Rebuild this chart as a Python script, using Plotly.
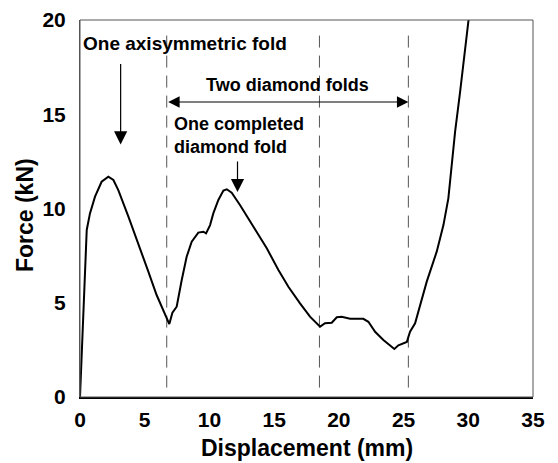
import plotly.graph_objects as go

# Force-displacement curve
displacement = [0, 0.25, 0.52, 0.77, 1.16, 1.67, 2.19, 2.58, 2.96, 3.74, 4.51, 5.28, 5.92, 6.57,
                6.90, 7.14, 7.47, 7.86, 8.24, 8.63, 9.14, 9.53, 9.74, 10.05, 10.30, 10.69, 11.08,
                11.34, 11.72, 12.36, 13.14, 14.43, 15.33, 16.10, 17.0, 17.77, 18.55, 18.93, 19.45,
                19.84, 20.22, 20.87, 21.89, 22.28, 22.80, 23.44, 24.29, 24.6, 25.25, 25.5, 25.89,
                26.28, 26.79, 27.56, 28.08, 28.46, 28.72, 28.98, 29.37, 29.75, 30.02]
force = [0, 4.6, 8.86, 9.74, 10.63, 11.42, 11.69, 11.51, 10.98, 9.57, 8.15, 6.65, 5.41, 4.35,
         3.87, 4.47, 4.79, 6.21, 7.44, 8.24, 8.72, 8.77, 8.68, 9.12, 9.74, 10.45, 10.95,
         11.02, 10.84, 10.19, 9.30, 7.89, 6.74, 5.85, 4.97, 4.26, 3.73, 3.91, 3.94,
         4.23, 4.26, 4.15, 4.15, 3.99, 3.46, 3.02, 2.55, 2.74, 2.92, 3.46, 3.91,
         4.88, 6.12, 7.71, 9.12, 10.54, 12.31, 14.07, 16.2, 18.32, 20.0]

# Vertical dashed marker lines (displacement, mm)
fold_marks = [6.70, 18.50, 25.37]
mark_y_range = [0.5, 19.4]

x_ticks = [0, 5, 10, 15, 20, 25, 30, 35]
y_ticks = [0, 5, 10, 15, 20]

x_title = "Displacement (mm)"
y_title = "Force (kN)"

FONT = "Liberation Sans, Arial, sans-serif"

fig = go.Figure()

for xm in fold_marks:
    fig.add_trace(go.Scatter(
        x=[xm, xm], y=mark_y_range, mode="lines",
        line=dict(color="#555555", width=1, dash="12px,8px"),
        hoverinfo="skip", showlegend=False))

fig.add_trace(go.Scatter(
    x=displacement, y=force, mode="lines",
    line=dict(color="black", width=2),
    showlegend=False))

ann_font = dict(family=FONT, size=18, color="black", weight="bold")
ann_font_big = dict(family=FONT, size=19, color="black", weight="bold")
title_font = dict(family=FONT, size=23, color="black", weight="bold")
tick_font = dict(family=FONT, size=21, color="black", weight="bold")

annotations = [
    dict(x=8.15, y=18.78, text="One axisymmetric fold", showarrow=False, font=ann_font_big),
    dict(x=16.04, y=16.55, text="Two diamond folds", showarrow=False, font=ann_font),
    dict(x=7.1, y=13.85, text="One completed<br>diamond fold", showarrow=False,
         font=ann_font, xanchor="left", align="left"),
    # down arrow 1
    dict(x=3.14, y=13.4, ax=3.14, ay=17.75, axref="x", ayref="y", xref="x", yref="y",
         text="", showarrow=True, arrowhead=2, arrowsize=2.2, arrowwidth=1.2, arrowcolor="black"),
    # down arrow 2
    dict(x=12.17, y=10.87, ax=12.17, ay=12.57, axref="x", ayref="y", xref="x", yref="y",
         text="", showarrow=True, arrowhead=2, arrowsize=2.2, arrowwidth=1.2, arrowcolor="black"),
    # double arrow
    dict(x=fold_marks[2], y=15.65, ax=fold_marks[0], ay=15.65, axref="x", ayref="y",
         xref="x", yref="y", text="", showarrow=True, arrowhead=2, startarrowhead=2,
         arrowside="end+start", arrowsize=1.9, startarrowsize=1.9, arrowwidth=1.2,
         arrowcolor="black"),
    # axis titles
    dict(xref="paper", yref="paper", x=0.502, y=-0.095, xanchor="center", yanchor="top",
         text=x_title, showarrow=False, font=title_font),
    dict(xref="paper", yref="paper", x=-0.121, y=0.483, xanchor="center", yanchor="middle",
         text=y_title, showarrow=False, font=title_font, textangle=-90),
]

fig.update_layout(
    width=558, height=463,
    margin=dict(l=80, r=25, t=20, b=66),
    paper_bgcolor="white", plot_bgcolor="white",
    annotations=annotations,
    shapes=[dict(type="rect", xref="paper", yref="paper", x0=0, y0=0, x1=1, y1=1,
                 line=dict(color="#555555", width=1), layer="above")],
    xaxis=dict(range=[0, 35], tickvals=x_ticks, ticktext=[str(v) for v in x_ticks],
               showgrid=False, zeroline=False, showline=True, linecolor="black", linewidth=2,
               ticks="outside", ticklen=3, tickcolor="rgba(0,0,0,0)",
               tickfont=tick_font, automargin=False),
    yaxis=dict(range=[0, 20], tickvals=y_ticks, ticktext=[str(v) for v in y_ticks],
               showgrid=False, zeroline=False, showline=True, linecolor="#555555", linewidth=1,
               ticks="outside", ticklen=9, tickcolor="rgba(0,0,0,0)",
               tickfont=tick_font, automargin=False),
)

fig.write_html("out.html")
